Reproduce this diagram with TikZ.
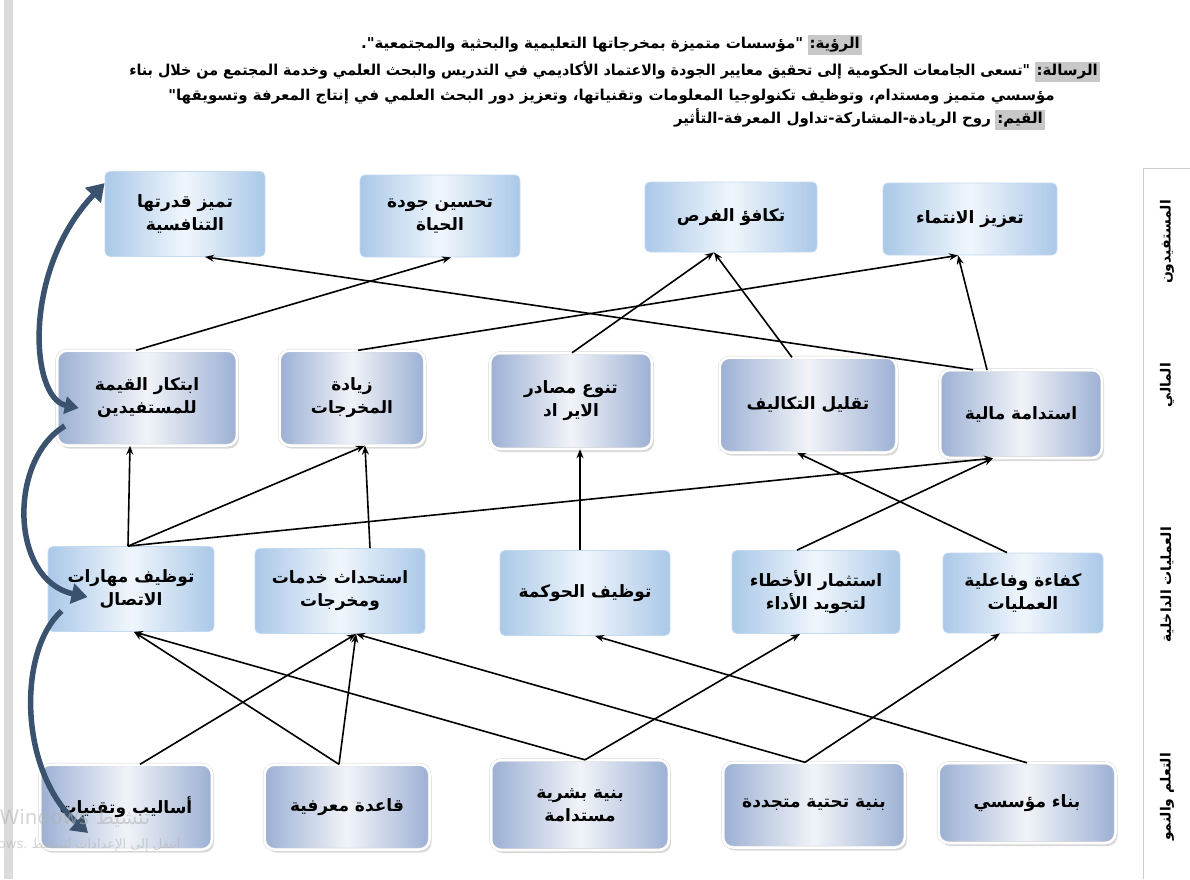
\documentclass[tikz,border=0pt]{standalone}
\usepackage{fontspec}
\usepackage{xcolor}
\usepackage{graphicx}
\usetikzlibrary{arrows.meta, shadows, positioning}
\newfontfamily\arabicfont[Script=Arabic]{DejaVu Sans}
\TeXXeTstate=1
\newcommand{\rl}[1]{\beginR#1\endR}

\definecolor{goaledge}{RGB}{170,200,232}
\definecolor{goalmid}{RGB}{240,246,252}
\definecolor{baseedge}{RGB}{156,176,212}
\definecolor{basemid}{RGB}{241,243,248}
\definecolor{curvecol}{RGB}{58,82,110}
\definecolor{hl}{RGB}{200,200,200}

\begin{document}
\begin{tikzpicture}[x=1pt, y=-1pt,
        goalbox/.style={rectangle, rounded corners=5pt, draw=goaledge!70, line width=0.8pt,
            left color=goaledge, right color=goaledge, middle color=goalmid,
            align=center, font=\arabicfont\bfseries\fontsize{17}{23}\selectfont},
        basebox/.style={rectangle, rounded corners=10pt, draw=gray!35, double=white, double distance=2.5pt,
            left color=baseedge, right color=baseedge, middle color=basemid,
            drop shadow={shadow xshift=2pt, shadow yshift=-3pt, opacity=0.3},
            align=center, font=\arabicfont\bfseries\fontsize{17}{23}\selectfont},
        conn/.style={-{Stealth[length=9pt,width=7pt]}, line width=1.6pt},
        cyclearrow/.style={line width=5.5pt, curvecol},
        hdr/.style={anchor=east, inner sep=0pt, font=\arabicfont\bfseries\fontsize{15}{17}\selectfont},
        hdrlbl/.style={hdr, fill=hl, inner sep=2pt},
        persp/.style={rotate=90, inner sep=0pt, font=\arabicfont\bfseries\fontsize{14}{16}\selectfont},
        ]
        \useasboundingbox (0,0) rectangle (1190,879);
        \fill[gray!28] (4,0) rectangle (13,879);

        % الرؤية والرسالة والقيم
        \node[hdrlbl] (visionlbl) at (862,45) {\rl{الرؤية:}};
        \node[hdr, left=4pt of visionlbl.base west, anchor=base east] (vision) {\rl{"مؤسسات متميزة بمخرجاتها التعليمية والبحثية والمجتمعية".}};
        \node[hdrlbl] (missionlbl) at (1100,72) {\rl{الرسالة:}};
        \node[hdr, left=4pt of missionlbl.base west, anchor=base east] (mission1) {\scalebox{0.95}[1]{\rl{"تسعى الجامعات الحكومية إلى تحقيق معايير الجودة والاعتماد الأكاديمي في التدريس والبحث العلمي وخدمة المجتمع من خلال بناء}}};
        \node[hdr] (mission2) at (1055,97) {\rl{مؤسسي متميز ومستدام، وتوظيف تكنولوجيا المعلومات وتقنياتها، وتعزيز دور البحث العلمي في إنتاج المعرفة وتسويقها"}};
        \node[hdrlbl] (valueslbl) at (1045,120) {\rl{القيم:}};
        \node[hdr, left=4pt of valueslbl.base west, anchor=base east] (values) {\rl{روح الريادة-المشاركة-تداول المعرفة-التأثير}};

        % المحاور
        \draw[gray!40, line width=0.8pt] (1143,879) -- (1143,168) -- (1190,168);
        \node[persp] (k1) at (1167,242) {\rl{المستفيدون}};
        \node[persp] (k2) at (1167,385) {\rl{المالي}};
        \node[persp] (k3) at (1167,585) {\rl{العمليات الداخلية}};
        \node[persp] (k4) at (1167,797) {\rl{التعلم والنمو}};

        % المستفيدون
        \node[goalbox, minimum width=160, minimum height=85] (c1) at (185,214) {\rl{تميز قدرتها}\\\rl{التنافسية}};
        \node[goalbox, minimum width=160, minimum height=82] (c2) at (440,216) {\rl{تحسين جودة}\\\rl{الحياة}};
        \node[goalbox, minimum width=172, minimum height=70] (c3) at (731,217) {\rl{تكافؤ الفرص}};
        \node[goalbox, minimum width=174, minimum height=72] (c4) at (970,219) {\rl{تعزيز الانتماء}};

        % المالي
        \node[basebox, minimum width=180, minimum height=95] (f1) at (147,398) {\rl{ابتكار القيمة}\\\rl{للمستفيدين}};
        \node[basebox, minimum width=145, minimum height=95] (f2) at (352,398) {\rl{زيادة}\\\rl{المخرجات}};
        \node[basebox, minimum width=162, minimum height=96] (f3) at (571,401) {\rl{تنوع مصادر}\\\rl{الاير اد}};
        \node[basebox, minimum width=177, minimum height=95] (f4) at (808,405) {\rl{تقليل التكاليف}};
        \node[basebox, minimum width=162, minimum height=88] (f5) at (1021,414) {\rl{استدامة مالية}};

        % العمليات الداخلية
        \node[goalbox, minimum width=166, minimum height=85] (p1) at (131,589) {\rl{توظيف مهارات}\\\rl{الاتصال}};
        \node[goalbox, minimum width=170, minimum height=85] (p2) at (340,591) {\rl{استحداث خدمات}\\\rl{ومخرجات}};
        \node[goalbox, minimum width=170, minimum height=85] (p3) at (585,593) {\rl{توظيف الحوكمة}};
        \node[goalbox, minimum width=168, minimum height=83] (p4) at (816,592) {\rl{استثمار الأخطاء}\\\rl{لتجويد الأداء}};
        \node[goalbox, minimum width=160, minimum height=80] (p5) at (1023,593) {\rl{كفاءة وفاعلية}\\\rl{العمليات}};

        % التعلم والنمو
        \node[basebox, minimum width=172, minimum height=85] (l1) at (126,807) {\rl{أساليب وتقنيات}};
        \node[basebox, minimum width=165, minimum height=85] (l2) at (347,807) {\rl{قاعدة معرفية}};
        \node[basebox, minimum width=178, minimum height=90] (l3) at (580,805) {\rl{بنية بشرية}\\\rl{مستدامة}};
        \node[basebox, minimum width=182, minimum height=85] (l4) at (814,805) {\rl{بنية تحتية متجددة}};
        \node[basebox, minimum width=177, minimum height=80] (l5) at (1027,803) {\rl{بناء مؤسسي}};

        % المالي -> المستفيدون
        \draw[conn] ([xshift=-11pt]f1.north) -- ([xshift=11pt]c2.south);
        \draw[conn] ([xshift=6pt]f2.north) -- ([xshift=-12pt]c4.south);
        \draw[conn] ([xshift=1pt]f3.north) -- ([xshift=-17pt]c3.south);
        \draw[conn] ([xshift=-16pt]f4.north) -- ([xshift=-17pt]c3.south);
        \draw[conn] ([xshift=-34pt]f5.north) -- ([xshift=-12pt]c4.south);
        \draw[conn] ([xshift=-48pt]f5.north) -- ([xshift=20pt]c1.south);

        % العمليات -> المالي
        \draw[conn] ([xshift=-3pt]p1.north) -- ([xshift=-17pt]f1.south);
        \draw[conn] ([xshift=-3pt]p1.north) -- ([xshift=13pt]f2.south);
        \draw[conn] ([xshift=-3pt]p1.north) -- ([xshift=-28pt]f5.south);
        \draw[conn] ([xshift=30pt]p2.north) -- ([xshift=13pt]f2.south);
        \draw[conn] ([xshift=-5pt]p3.north) -- ([xshift=9pt]f3.south);
        \draw[conn] ([xshift=-19pt]p4.north) -- ([xshift=-28pt]f5.south);
        \draw[conn] ([xshift=-16pt]p5.north) -- ([xshift=-11pt]f4.south);

        % التعلم والنمو -> العمليات
        \draw[conn] ([xshift=14pt]l1.north) -- ([xshift=16pt]p2.south);
        \draw[conn] ([xshift=-8pt]l2.north) -- ([xshift=3pt]p1.south);
        \draw[conn] ([xshift=-8pt]l2.north) -- ([xshift=16pt]p2.south);
        \draw[conn] ([xshift=5pt]l3.north) -- ([xshift=3pt]p1.south);
        \draw[conn] ([xshift=5pt]l3.north) -- ([xshift=-16pt]p4.south);
        \draw[conn] ([xshift=-9pt]l4.north) -- ([xshift=16pt]p2.south);
        \draw[conn] ([xshift=-9pt]l4.north) -- ([xshift=-23pt]p5.south);
        \draw[conn] (l5.north) -- ([xshift=10pt]p3.south);

        % الأسهم المنحنية
        \draw[cyclearrow, {Triangle[length=14pt,width=17pt]}-{Triangle[length=17pt,width=21pt]}]
            ([xshift=22pt,yshift=-10pt]f1.west) .. controls (30,398) and (22,270) .. ([yshift=-12pt]c1.north west);
        \draw[cyclearrow, -{Triangle[length=16pt,width=20pt]}]
            ([xshift=8pt,yshift=-28pt]f1.west) .. controls (8,460) and (10,580) .. ([xshift=40pt,yshift=-8pt]p1.west);
        \draw[cyclearrow, -{Triangle[length=16pt,width=20pt]}]
            ([xshift=14pt,yshift=-22pt]p1.west) .. controls (18,650) and (18,770) .. ([xshift=-38pt,yshift=-26pt]l1.center);

        % علامة الويندوز
        \node[anchor=west, text=gray!60, opacity=0.55, font=\arabicfont\fontsize{20}{22}\selectfont] (wm1) at (-4,818) {\rl{تنشيط Windows}};
        \node[anchor=east, text=gray!60, opacity=0.55, font=\arabicfont\fontsize{13}{15}\selectfont] (wm2) at (184,845) {\rl{انتقل إلى الإعدادات لتنشيط Windows.}};
\end{tikzpicture}
\end{document}
